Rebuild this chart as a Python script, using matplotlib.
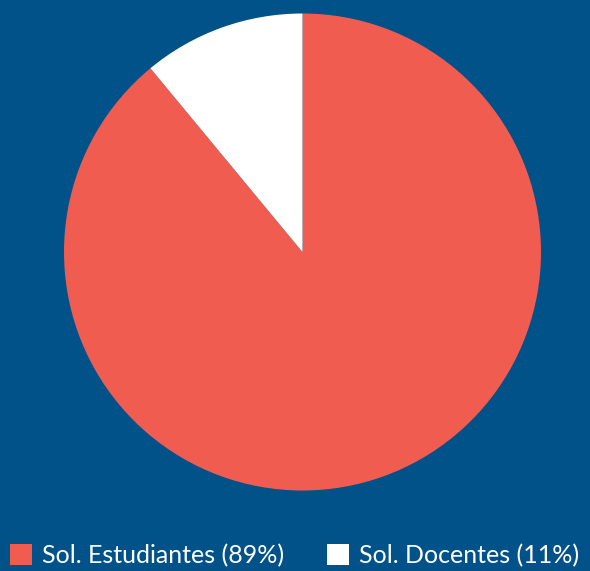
import matplotlib
matplotlib.use('Agg')
import matplotlib.pyplot as plt
from matplotlib.patches import Patch

# 数据
labels = ['Sol. Estudiantes (89%)', 'Sol. Docentes (11%)']
values = [89, 11]
colors = ['#F15C50', '#FFFFFF']
bg = '#02528A'

plt.rcParams['font.family'] = ['Lato', 'DejaVu Sans']

W, H = 590, 571
fig = plt.figure(figsize=(W / 100, H / 100), dpi=100, facecolor=bg)

# 饼图位置 (像素)
cx, cy, r = 302.5, 252, 238.5
ax = fig.add_axes([(cx - r) / W, (H - cy - r) / H, 2 * r / W, 2 * r / H])
ax.set_facecolor(bg)
ax.pie(values, colors=colors, startangle=90, counterclock=False,
       wedgeprops={'linewidth': 0})
ax.set_xlim(-1, 1)
ax.set_ylim(-1, 1)
ax.set_aspect('equal')
ax.axis('off')

# 图例
fs = 18
handles = [Patch(facecolor=c, edgecolor='none') for c in colors]
leg = fig.legend(handles, labels, loc='lower left', bbox_to_anchor=(10 / W, 4 / H),
                 ncol=2, frameon=False, fontsize=fs,
                 handlelength=0.88, handleheight=0.88, handletextpad=0.4,
                 columnspacing=1.7, borderaxespad=0, borderpad=0)
for t in leg.get_texts():
    t.set_color('white')

fig.savefig('out.png', dpi=100, facecolor=bg)
